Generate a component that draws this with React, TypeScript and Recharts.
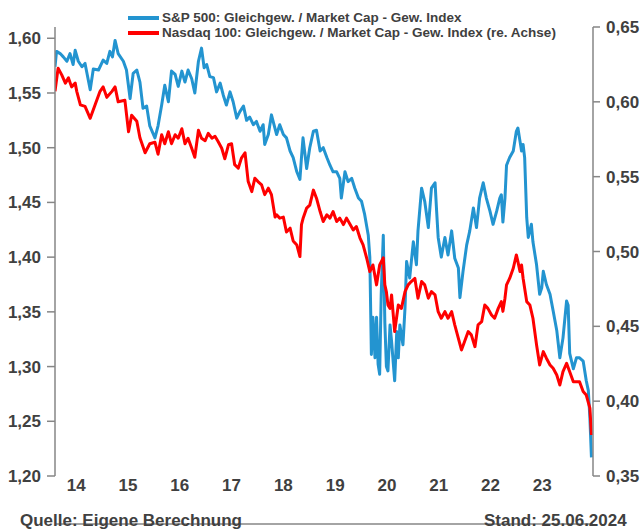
import React from 'react';
import { LineChart, Line, XAxis, YAxis, Legend } from 'recharts';

const spTime = [
  2014.09, 2014.12, 2014.19, 2014.25, 2014.32, 2014.38, 2014.44, 2014.48, 2014.54, 2014.61, 2014.67, 2014.77, 2014.83, 2014.93,
  2015.02, 2015.09, 2015.15, 2015.20, 2015.25, 2015.31, 2015.41, 2015.47, 2015.54, 2015.60, 2015.67, 2015.73, 2015.79, 2015.86, 2015.92,
  2016.02, 2016.08, 2016.15, 2016.21, 2016.28, 2016.34, 2016.41, 2016.47, 2016.54, 2016.60, 2016.66, 2016.73, 2016.79, 2016.86, 2016.92, 2016.97,
  2017.02, 2017.08, 2017.15, 2017.21, 2017.28, 2017.34, 2017.40, 2017.47, 2017.53, 2017.60, 2017.66, 2017.73, 2017.79, 2017.85, 2017.92, 2017.98,
  2018.05, 2018.11, 2018.14, 2018.21, 2018.27, 2018.37, 2018.43, 2018.50, 2018.56, 2018.63, 2018.69, 2018.76, 2018.82, 2018.85, 2018.88, 2018.95,
  2019.01, 2019.08, 2019.14, 2019.21, 2019.27, 2019.34, 2019.40, 2019.46, 2019.53, 2019.59, 2019.62, 2019.69, 2019.75, 2019.82, 2019.88, 2019.95,
  2020.01, 2020.07, 2020.14, 2020.17, 2020.20, 2020.23, 2020.27, 2020.30, 2020.33, 2020.36, 2020.39, 2020.43, 2020.46, 2020.49, 2020.52, 2020.56,
  2020.59, 2020.65, 2020.69, 2020.72, 2020.75, 2020.81, 2020.85, 2020.88, 2020.94,
  2021.01, 2021.07, 2021.10, 2021.17, 2021.23, 2021.30, 2021.36, 2021.43, 2021.46, 2021.49, 2021.55, 2021.62, 2021.68, 2021.75, 2021.81, 2021.88, 2021.91, 2021.97,
  2022.04, 2022.10, 2022.17, 2022.23, 2022.29, 2022.36, 2022.42, 2022.49, 2022.55, 2022.62, 2022.68, 2022.71, 2022.74, 2022.78, 2022.81, 2022.87, 2022.94,
  2023.00, 2023.03, 2023.07, 2023.10, 2023.13, 2023.16, 2023.20, 2023.23, 2023.29, 2023.32, 2023.39, 2023.45, 2023.49, 2023.52, 2023.58, 2023.65, 2023.71,
  2023.78, 2023.84, 2023.90, 2023.97, 2024.00, 2024.03, 2024.10, 2024.16, 2024.22, 2024.29, 2024.35, 2024.39, 2024.42, 2024.45,
];
const spValue = [
  1.574, 1.588, 1.586, 1.583, 1.579, 1.586, 1.576, 1.589, 1.579, 1.574, 1.577, 1.553, 1.572, 1.571,
  1.580, 1.577, 1.588, 1.583, 1.598, 1.586, 1.579, 1.571, 1.545, 1.568, 1.571, 1.560, 1.536, 1.538, 1.520,
  1.509, 1.520, 1.539, 1.557, 1.542, 1.570, 1.567, 1.556, 1.570, 1.560, 1.571, 1.563, 1.550, 1.579, 1.591, 1.573,
  1.576, 1.565, 1.564, 1.551, 1.559, 1.548, 1.539, 1.551, 1.542, 1.527, 1.533, 1.538, 1.525, 1.528, 1.521, 1.524,
  1.515, 1.521, 1.503, 1.512, 1.530, 1.512, 1.521, 1.512, 1.509, 1.497, 1.491, 1.478, 1.471, 1.491, 1.509, 1.481,
  1.500, 1.515, 1.516, 1.497, 1.500, 1.491, 1.484, 1.478, 1.478, 1.472, 1.454, 1.478, 1.469, 1.472, 1.463, 1.454,
  1.451, 1.439, 1.420, 1.400, 1.311, 1.345, 1.308, 1.345, 1.302, 1.293, 1.366, 1.420, 1.340, 1.300, 1.296, 1.338,
  1.323, 1.287, 1.332, 1.308, 1.338, 1.320, 1.354, 1.396, 1.381,
  1.414, 1.393, 1.424, 1.463, 1.451, 1.427, 1.463, 1.468, 1.442, 1.418, 1.400, 1.418, 1.402, 1.424, 1.399, 1.390, 1.363, 1.387,
  1.411, 1.424, 1.445, 1.427, 1.454, 1.468, 1.454, 1.442, 1.430, 1.442, 1.454, 1.457, 1.432, 1.454, 1.484, 1.491, 1.497,
  1.515, 1.518, 1.506, 1.497, 1.503, 1.491, 1.436, 1.418, 1.430, 1.414, 1.393, 1.366, 1.372, 1.387, 1.375, 1.366, 1.351,
  1.333, 1.308, 1.326, 1.360, 1.356, 1.312, 1.298, 1.308, 1.308, 1.305, 1.287, 1.278, 1.253, 1.217,
];

const ndTime = [
  2014.09, 2014.15, 2014.22, 2014.29, 2014.35, 2014.41, 2014.48, 2014.51, 2014.58, 2014.67, 2014.77, 2014.87, 2014.96,
  2015.02, 2015.09, 2015.19, 2015.25, 2015.31, 2015.44, 2015.51, 2015.57, 2015.67, 2015.73, 2015.83, 2015.92,
  2016.02, 2016.08, 2016.15, 2016.21, 2016.28, 2016.34, 2016.41, 2016.47, 2016.54, 2016.60, 2016.66, 2016.73, 2016.79, 2016.86, 2016.92, 2016.99,
  2017.05, 2017.12, 2017.18, 2017.24, 2017.31, 2017.37, 2017.44, 2017.50, 2017.56, 2017.63, 2017.69, 2017.76, 2017.82, 2017.89, 2017.95,
  2018.01, 2018.08, 2018.14, 2018.21, 2018.27, 2018.34, 2018.37, 2018.43, 2018.50, 2018.56, 2018.63, 2018.69, 2018.76, 2018.82, 2018.85, 2018.88, 2018.95,
  2019.01, 2019.08, 2019.14, 2019.21, 2019.27, 2019.34, 2019.40, 2019.46, 2019.53, 2019.59, 2019.66, 2019.72, 2019.79, 2019.85, 2019.91, 2019.98,
  2020.04, 2020.11, 2020.17, 2020.23, 2020.30, 2020.36, 2020.43, 2020.46, 2020.49, 2020.52, 2020.56, 2020.59, 2020.65, 2020.72, 2020.78, 2020.85, 2020.91, 2020.97,
  2021.04, 2021.10, 2021.17, 2021.23, 2021.30, 2021.36, 2021.43, 2021.49, 2021.55, 2021.62, 2021.68, 2021.75, 2021.81, 2021.88, 2021.94,
  2022.00, 2022.07, 2022.13, 2022.20, 2022.26, 2022.33, 2022.39, 2022.45, 2022.52, 2022.58, 2022.65, 2022.71, 2022.74, 2022.78, 2022.81, 2022.87, 2022.94,
  2023.00, 2023.03, 2023.07, 2023.10, 2023.13, 2023.20, 2023.26, 2023.32, 2023.39, 2023.45, 2023.52, 2023.58, 2023.65, 2023.71, 2023.78, 2023.84, 2023.90, 2023.97,
  2024.03, 2024.10, 2024.16, 2024.22, 2024.29, 2024.35, 2024.42, 2024.45,
];
const ndValue = [
  0.607, 0.6225, 0.618, 0.6125, 0.616, 0.610, 0.6125, 0.607, 0.598, 0.597, 0.589, 0.5985, 0.607,
  0.610, 0.603, 0.607, 0.610, 0.600, 0.601, 0.580, 0.591, 0.587, 0.576, 0.566, 0.572,
  0.573, 0.565, 0.578, 0.572, 0.580, 0.572, 0.578, 0.5757, 0.582, 0.572, 0.5757, 0.569, 0.563, 0.581, 0.5757, 0.574,
  0.579, 0.5757, 0.577, 0.5735, 0.569, 0.562, 0.5713, 0.572, 0.558, 0.5557, 0.5624, 0.566, 0.547, 0.540, 0.549,
  0.5467, 0.5445, 0.538, 0.5423, 0.538, 0.523, 0.5245, 0.5223, 0.523, 0.513, 0.5156, 0.507, 0.5044, 0.4966, 0.518, 0.522, 0.529,
  0.531, 0.541, 0.5356, 0.5267, 0.520, 0.5245, 0.5223, 0.5267, 0.520, 0.5223, 0.518, 0.5223, 0.518, 0.5144, 0.5167, 0.509,
  0.5044, 0.4955, 0.4866, 0.491, 0.4777, 0.491, 0.4957, 0.4777, 0.473, 0.4643, 0.462, 0.471, 0.4465, 0.4643, 0.462, 0.4732, 0.4777, 0.4799,
  0.482, 0.4688, 0.4799, 0.4777, 0.4688, 0.4732, 0.471, 0.4598, 0.4554, 0.4598, 0.4554, 0.4598, 0.451, 0.442, 0.4342,
  0.4398, 0.4465, 0.4443, 0.4364, 0.451, 0.4531, 0.4643, 0.462, 0.4576, 0.4554, 0.462, 0.4665, 0.460, 0.4688, 0.4777, 0.482, 0.4888,
  0.4977, 0.4932, 0.4866, 0.491, 0.4821, 0.4665, 0.4643, 0.4554, 0.4376, 0.4242, 0.4331, 0.4287, 0.4242, 0.422, 0.4175, 0.4108, 0.4197, 0.4253,
  0.4197, 0.413, 0.413, 0.413, 0.4064, 0.4041, 0.3953, 0.3774,
];

const seriesNames = [
  'S&P 500: Gleichgew. / Market Cap - Gew. Index',
  'Nasdaq 100: Gleichgew. / Market Cap - Gew. Index (re. Achse)',
];
const seriesColors = ['#2394D0', '#FF0000'];

const yearBoundaryTicks = [2015, 2016, 2017, 2018, 2019, 2020, 2021, 2022, 2023, 2024];
const yearLabelPositions = [2014.5, 2015.5, 2016.5, 2017.5, 2018.5, 2019.5, 2020.5, 2021.5, 2022.5, 2023.5];
const yearLabels = ['14', '15', '16', '17', '18', '19', '20', '21', '22', '23'];
const leftTicks = [1.2, 1.25, 1.3, 1.35, 1.4, 1.45, 1.5, 1.55, 1.6];
const rightTicks = [0.35, 0.4, 0.45, 0.5, 0.55, 0.6, 0.65];
const sourceText = 'Quelle: Eigene Berechnung';
const dateText = 'Stand: 25.06.2024';

const spData = spTime.map((t, i) => ({ t, v: spValue[i] }));
const ndData = ndTime.map((t, i) => ({ t, v: ndValue[i] }));

const FONT = '"Liberation Sans Narrow", "Liberation Sans", Arial, sans-serif';
const TEXT = '#404040';
const AXIS = '#868686';
const X_DOMAIN: [number, number] = [2014.09, 2024.48];

const tickStyle = { fill: TEXT, fontSize: 17, fontWeight: 700, fontFamily: FONT };
const fmt = (v: number) => v.toFixed(2).replace('.', ',');

const renderLegend = () => (
  <div style={{ fontFamily: FONT, fontWeight: 700, fontSize: 13.5, color: TEXT, lineHeight: '15px' }}>
    {seriesNames.map((name, i) => (
      <div key={name} style={{ display: 'flex', alignItems: 'center', height: 15, whiteSpace: 'nowrap' }}>
        <svg width={31} height={6} style={{ marginRight: 3, flex: 'none' }}>
          <line x1={0} x2={31} y1={3} y2={3} stroke={seriesColors[i]} strokeWidth={4} />
        </svg>
        <span>{name}</span>
      </div>
    ))}
  </div>
);

export default function App() {
  return (
    <div style={{ position: 'absolute', left: 0, top: 0, width: 640, height: 532, background: '#fff' }}>
      <LineChart width={640} height={532} margin={{ top: 27, right: 0, bottom: 0, left: 0 }}>
        <XAxis
          xAxisId="ticks"
          dataKey="t"
          type="number"
          domain={X_DOMAIN}
          allowDataOverflow
          ticks={yearBoundaryTicks}
          tick={false}
          tickSize={6}
          height={8}
          axisLine={{ stroke: AXIS, strokeWidth: 1.5 }}
          tickLine={{ stroke: AXIS, strokeWidth: 1.5 }}
        />
        <XAxis
          xAxisId="labels"
          dataKey="t"
          type="number"
          domain={X_DOMAIN}
          allowDataOverflow
          ticks={yearLabelPositions}
          tickFormatter={(v: number) => yearLabels[yearLabelPositions.indexOf(v)] ?? ''}
          interval={0}
          tick={tickStyle}
          tickSize={0}
          tickMargin={3}
          height={48}
          axisLine={false}
          tickLine={false}
        />
        <YAxis
          yAxisId="left"
          orientation="left"
          type="number"
          domain={[1.2, 1.6103]}
          allowDataOverflow
          ticks={leftTicks}
          interval={0}
          tickFormatter={fmt}
          tick={tickStyle}
          tickSize={8}
          tickMargin={6}
          width={55}
          axisLine={{ stroke: AXIS, strokeWidth: 1.5 }}
          tickLine={{ stroke: AXIS, strokeWidth: 1.5 }}
        />
        <YAxis
          yAxisId="right"
          orientation="right"
          type="number"
          domain={[0.35, 0.65]}
          allowDataOverflow
          ticks={rightTicks}
          interval={0}
          tickFormatter={fmt}
          tick={tickStyle}
          tickSize={7}
          tickMargin={6}
          width={47}
          axisLine={{ stroke: AXIS, strokeWidth: 1.5 }}
          tickLine={{ stroke: AXIS, strokeWidth: 1.5 }}
        />
        <Legend
          layout="vertical"
          align="center"
          verticalAlign="middle"
          content={renderLegend}
          wrapperStyle={{ position: 'absolute', left: 128, top: 10, width: 'auto', height: 'auto' }}
        />
        <Line
          xAxisId="ticks"
          yAxisId="left"
          data={spData}
          dataKey="v"
          name={seriesNames[0]}
          stroke={seriesColors[0]}
          strokeWidth={3}
          dot={false}
          activeDot={false}
          strokeLinejoin="round"
          isAnimationActive={false}
        />
        <Line
          xAxisId="ticks"
          yAxisId="right"
          data={ndData}
          dataKey="v"
          name={seriesNames[1]}
          stroke={seriesColors[1]}
          strokeWidth={3}
          dot={false}
          activeDot={false}
          strokeLinejoin="round"
          isAnimationActive={false}
        />
      </LineChart>
      <div style={{ position: 'absolute', left: 20, top: 511, fontFamily: FONT, fontWeight: 700, fontSize: 17, color: TEXT, whiteSpace: 'nowrap' }}>
        {sourceText}
      </div>
      <div style={{ position: 'absolute', left: 484, top: 511, fontFamily: FONT, fontWeight: 700, fontSize: 17, color: TEXT, whiteSpace: 'nowrap' }}>
        {dateText}
      </div>
    </div>
  );
}
